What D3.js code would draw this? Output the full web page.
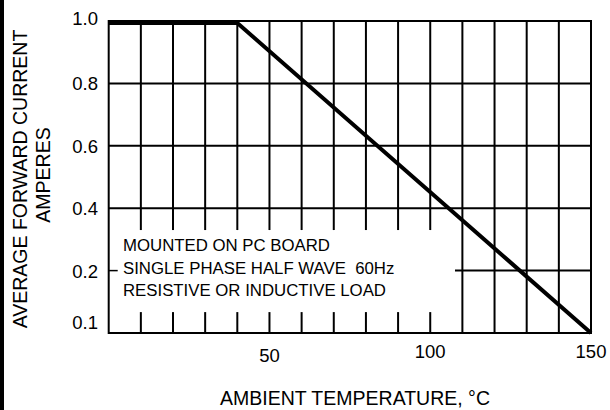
<!DOCTYPE html>
<html>
<head>
<meta charset="utf-8">
<script src="https://cdn.jsdelivr.net/npm/d3@7"></script>
<style>
  body { margin: 0; background: #fff; }
  text { font-family: "Liberation Sans", Arial, sans-serif; fill: #000; }
</style>
</head>
<body>
<div id="chart"></div>
<script>
// Derating curve: ambient temperature (°C) vs average forward current (A)
const temps    = [0, 40, 150];
const currents = [1.0, 1.0, 0.0];

const xGrid      = d3.range(10, 150, 10);
const yGrid      = [0.8, 0.6, 0.4];
const xTicks     = [50, 100, 150];
const yTicks     = [1.0, 0.8, 0.6, 0.4, 0.2, 0.1];
const yTickLabel = ['1.0', '0.8', '0.6', '0.4', '0.2', '0.1'];
const notes = [
  'MOUNTED ON PC BOARD',
  'SINGLE PHASE HALF WAVE\u00a0\u00a060Hz',
  'RESISTIVE OR INDUCTIVE LOAD'
];

const W = 610, H = 410;
const plot = { left: 108.7, right: 591, top: 21, bottom: 333 };

const x = d3.scaleLinear().domain([0, 150]).range([plot.left, plot.right]);
const y = d3.scaleLinear().domain([0, 1]).range([plot.bottom, plot.top]);

const svg = d3.select('#chart').append('svg')
  .attr('width', W)
  .attr('height', H);

// black strip on the left edge
svg.append('rect')
  .attr('x', 0).attr('y', 0)
  .attr('width', 4).attr('height', H)
  .style('fill', '#000');

const g = svg.append('g');

// Vertical grid lines; the ones over the note box are broken
const noteBox = { t1: 107.7, yTop: 0.33, yBot: 0.067 };
for (let t of xGrid) {
  if (t <= 100) {
    g.append('line')
      .attr('x1', x(t)).attr('x2', x(t))
      .attr('y1', y(1)).attr('y2', y(noteBox.yTop))
      .style('stroke', '#000').style('stroke-width', 2);
    g.append('line')
      .attr('x1', x(t)).attr('x2', x(t))
      .attr('y1', y(noteBox.yBot)).attr('y2', y(0))
      .style('stroke', '#000').style('stroke-width', 2);
  } else {
    g.append('line')
      .attr('x1', x(t)).attr('x2', x(t))
      .attr('y1', y(1)).attr('y2', y(0))
      .style('stroke', '#000').style('stroke-width', 2);
  }
}

// Horizontal grid lines
g.selectAll('.hgrid')
    .data(yGrid)
  .enter().append('line')
    .attr('class', 'hgrid')
    .attr('x1', x(0)).attr('x2', x(150))
    .attr('y1', d => y(d)).attr('y2', d => y(d))
    .style('stroke', '#000').style('stroke-width', 2);

// 0.2 line: short stub on the left, then resumes right of the notes
g.append('line')
  .attr('x1', x(0)).attr('x2', x(2.8))
  .attr('y1', y(0.2)).attr('y2', y(0.2))
  .style('stroke', '#000').style('stroke-width', 1.5);
g.append('line')
  .attr('x1', x(noteBox.t1)).attr('x2', x(150))
  .attr('y1', y(0.2)).attr('y2', y(0.2))
  .style('stroke', '#000').style('stroke-width', 2);

// Frame
g.append('rect')
  .attr('x', x(0)).attr('y', y(1))
  .attr('width', x(150) - x(0)).attr('height', y(0) - y(1))
  .style('fill', 'none')
  .style('stroke', '#000')
  .style('stroke-width', 2);

// Curve
const line = d3.line()
  .x((d, i) => x(temps[i]))
  .y(d => y(d) + 2);
g.append('path')
  .datum(currents)
  .attr('d', d => line(d.slice(0, 2)) + 'L' + x(temps[2]) + ',' + y(currents[2]))
  .style('fill', 'none')
  .style('stroke', '#000')
  .style('stroke-width', 4)
  .style('stroke-linejoin', 'miter');

// Notes
g.selectAll('.note')
    .data(notes)
  .enter().append('text')
    .attr('class', 'note')
    .attr('x', 123)
    .attr('y', (d, i) => 251 + i * 22.5)
    .attr('font-size', 16.8)
    .text(d => d);

// Y tick labels (0.1 sits just above the bottom edge)
g.selectAll('.ylab')
    .data(yTicks)
  .enter().append('text')
    .attr('class', 'ylab')
    .attr('x', 98)
    .attr('y', (d, i) => {
      if (d === 0.1) return y(0.035) + 6.5;
      if (d === 1.0) return y(d) + 4;
      return y(d) + 7;
    })
    .attr('text-anchor', 'end')
    .attr('font-size', 18.5)
    .text((d, i) => yTickLabel[i]);

// X tick labels
g.selectAll('.xlab')
    .data(xTicks)
  .enter().append('text')
    .attr('class', 'xlab')
    .attr('x', d => x(d))
    .attr('y', d => d === 50 ? 362 : 358)
    .attr('text-anchor', 'middle')
    .attr('font-size', 18.5)
    .text(d => d);

// Axis titles
svg.append('text')
  .attr('x', 355)
  .attr('y', 405)
  .attr('text-anchor', 'middle')
  .attr('font-size', 19.5)
  .text('AMBIENT TEMPERATURE, \u00b0C');

svg.append('text')
  .attr('transform', 'translate(27,179) rotate(-90)')
  .attr('text-anchor', 'middle')
  .attr('font-size', 19.5)
  .text('AVERAGE FORWARD CURRENT');

svg.append('text')
  .attr('transform', 'translate(50,175) rotate(-90)')
  .attr('text-anchor', 'middle')
  .attr('font-size', 19.5)
  .text('AMPERES');
</script>
</body>
</html>
